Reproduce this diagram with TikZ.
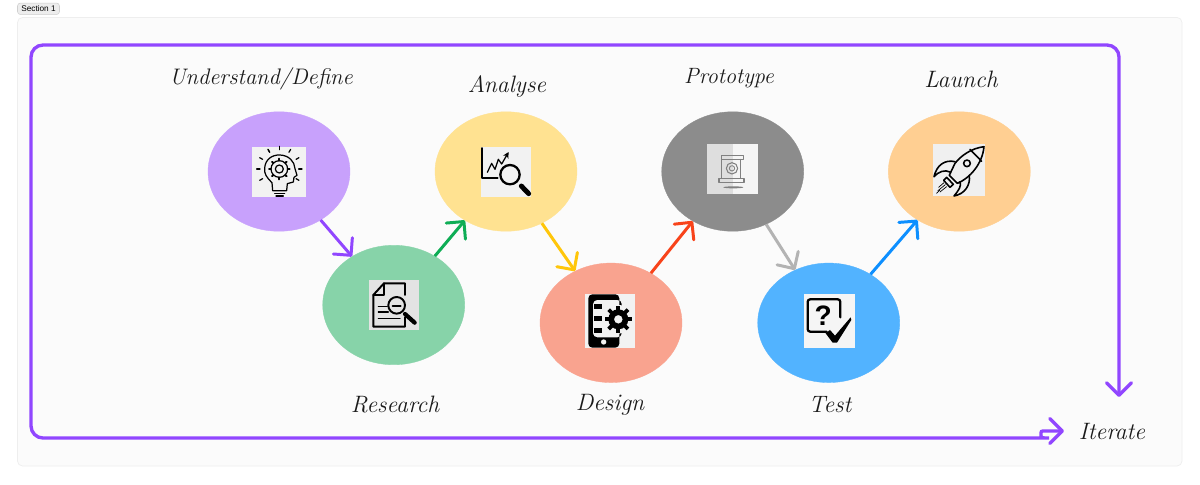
\documentclass[tikz,border=0pt]{standalone}
\usepackage{fontspec}
\setsansfont{Liberation Sans}
\usetikzlibrary{shapes.geometric,arrows.meta}
\definecolor{panelfill}{HTML}{FBFBFB}
\definecolor{panelline}{HTML}{EEEEEE}
\definecolor{tagfill}{HTML}{EDEDED}
\definecolor{tagline}{HTML}{CFCFCF}
\definecolor{loopcol}{HTML}{9146FF}
\definecolor{inkcol}{HTML}{1A1A1A}
\definecolor{understandcol}{HTML}{C8A1FC}
\definecolor{researchcol}{HTML}{87D3A9}
\definecolor{analysecol}{HTML}{FFE291}
\definecolor{designcol}{HTML}{F9A38F}
\definecolor{prototypecol}{HTML}{8C8C8C}
\definecolor{testcol}{HTML}{52B3FF}
\definecolor{launchcol}{HTML}{FFCF92}
\definecolor{greenflow}{HTML}{0EAD55}
\definecolor{yellowflow}{HTML}{FFC60A}
\definecolor{redflow}{HTML}{F8431A}
\definecolor{grayflow}{HTML}{B3B3B3}
\definecolor{blueflow}{HTML}{0D8FFF}
\tikzset{
	phase/.style={ellipse, draw=#1, fill=#1, line width=0.2pt, minimum width=2.84cm, minimum height=2.39cm, inner sep=0pt},
	hand/.style={font=\fontsize{13.5}{16}\selectfont\itshape, text=inkcol, inner sep=0pt},
	flow/.style={draw=#1, line width=1.7pt, -{Straight Barb[length=0.25cm,width=0.5cm,round]}},
	looparrow/.style={draw=loopcol, line width=1.9pt, rounded corners=0.24cm, {Straight Barb[length=0.25cm,width=0.5cm,round]}-{Straight Barb[length=0.25cm,width=0.5cm,round]}},
	iconline/.style={draw=black, line width=0.7pt, line cap=round, line join=round}
}
\begin{document}
\begin{tikzpicture}[x=0.02cm,y=-0.02cm]
	\useasboundingbox (0,0) rectangle (1200,484);
	\fill[white] (0,0) rectangle (1200,484);
	\filldraw[fill=panelfill, draw=panelline, line width=0.4pt, rounded corners=0.1cm] (17.5,17.5) rectangle (1182,466);
	\node[draw=tagline, fill=tagfill, rounded corners=0.06cm, line width=0.3pt, font=\sffamily\fontsize{4.7}{6}\selectfont, text=black, minimum width=0.84cm, minimum height=0.23cm, inner sep=0pt] (section) at (38.5,8.8) {Section 1};

	\node[phase=understandcol] (understand) at (279,171.5) {};
	\node[phase=researchcol] (research) at (393.7,305) {};
	\node[phase=analysecol] (analyse) at (506,171.5) {};
	\node[phase=designcol] (design) at (611,322.8) {};
	\node[phase=prototypecol] (prototype) at (732.7,171.5) {};
	\node[phase=testcol] (test) at (828.7,322.8) {};
	\node[phase=launchcol] (launch) at (959.3,171.5) {};

	\node[hand] (understandlabel) at (261,79) {\fontsize{12.8}{16}\selectfont Understand/Define};
	\node[hand] (analyselabel) at (507,86) {Analyse};
	\node[hand] (prototypelabel) at (729,78) {\fontsize{12.6}{16}\selectfont Prototype};
	\node[hand] (launchlabel) at (961,79) {Launch};
	\node[hand] (researchlabel) at (395,405) {Research};
	\node[hand] (designlabel) at (610,405) {Design};
	\node[hand] (testlabel) at (830,405) {Test};
	\node[hand] (iteratelabel) at (1112,432) {Iterate};

	\draw[flow=loopcol] (understand) -- (research);
	\draw[flow=greenflow] (research) -- (analyse);
	\draw[flow=yellowflow] (analyse) -- (design);
	\draw[flow=redflow] (design) -- (prototype);
	\draw[flow=grayflow] (prototype) -- (test);
	\draw[flow=blueflow] (test) -- (launch);

	\coordinate (loopdown) at (1119,397);
	\coordinate (loopright) at (1064,431);
	\draw[looparrow] (loopdown) -- (1119,45) -- (31,45) -- (31,438) -- (1037,438) [sharp corners] .. controls (1041,438) and (1041,438) .. (1041,434.5) .. controls (1041,431) and (1041,431) .. (1045,431) -- (loopright);

	% head with gear
	\begin{scope}[shift={(200,100)},scale=0.3333]
		\fill[black!5] (157,140) rectangle (318,290);
		\draw[iconline] (218,272) -- (216,248) .. controls (200,232) and (192,222) .. (194,204) .. controls (196,178) and (216,164) .. (240,165) .. controls (266,166) and (284,184) .. (285,206) -- (291,226) -- (282,232) -- (280,246) -- (262,251) -- (260,272) -- cycle;
		\draw[iconline] (238,207) circle (25);
		\draw[iconline] (238,207) circle (12);
		\foreach \a in {0,45,...,315}
			\draw[iconline,line width=1.1pt] (238,207) ++(\a:25) -- ++(\a:6);
		\foreach \a in {-90,-60,-30,0,30,180,150,210,240,-120}
			\draw[iconline] (238,207) ++(\a:58) -- ++(\a:10);
		\draw[iconline] (224,280) -- (254,280);
		\draw[iconline] (228,288) -- (250,288);
	\end{scope}

	% document with magnifier
	\begin{scope}[shift={(200,100)},scale=0.3333]
		\fill[black!11] (507,540) rectangle (657,690);
		\draw[iconline,line width=1.1pt] (615,585) -- (615,550) -- (552,550) -- (520,585) -- (520,680) -- (615,680) -- (615,652);
		\draw[iconline,line width=1pt] (552,550) -- (552,586) -- (520,586);
		\draw[iconline] (535,620) -- (562,620);
		\draw[iconline] (535,636) -- (565,636);
		\draw[iconline] (535,655) -- (600,655);
		\draw[iconline,line width=1.1pt] (590,616) circle (25);
		\draw[iconline,line width=1.1pt] (578,618) -- (602,618);
		\draw[iconline,line width=2.4pt] (615,642) -- (644,668);
	\end{scope}

	% chart with magnifier
	\begin{scope}[shift={(430,100)},scale=0.3333]
		\fill[black!5] (153,140) rectangle (303,290);
		\draw[iconline,line width=1.1pt] (156,144) -- (156,235) -- (203,235);
		\draw[iconline,-{Stealth[length=0.12cm,width=0.12cm]}] (172,217) -- (185,190) -- (195,208) -- (205,178) -- (215,192) -- (236,156);
		\draw[iconline,line width=1.3pt] (240,224) circle (29);
		\draw[iconline,line width=2.8pt] (274,258) -- (296,281);
	\end{scope}

	% phone with gear
	\begin{scope}[shift={(430,100)},scale=0.3333]
		\fill[black!5] (465,582) rectangle (615,743);
		\fill[black,rounded corners=0.08cm,even odd rule] (475,583) rectangle (568,743) (489,600) -- (575,600) -- (575,712) -- (489,712) -- cycle;
		\fill[black!5] (521,726) circle (8);
		\fill[black] (493,613) rectangle (516,627);
		\fill[black] (493,648) rectangle (516,662);
		\fill[black] (493,684) rectangle (516,698);
		\fill[black!5] (565,658) circle (43);
		\fill[black,even odd rule] (565,658) circle (30) circle (13);
		\foreach \a in {0,45,...,315}
			\draw[black,line width=2.2pt] (565,658) ++(\a:28) -- ++(\a:13);
	\end{scope}

	% blueprint with gear
	\begin{scope}[shift={(660,100)},scale=0.3333]
		\fill[black!4] (141,132) rectangle (293,283);
		\fill[black!13] (141,132) rectangle (218,283);
		\draw[iconline,draw=gray,line width=0.5pt] (185,165) -- (250,165) -- (250,178) -- (185,178) -- cycle;
		\draw[iconline,draw=gray,line width=0.5pt] (185,178) -- (185,235) (240,178) -- (240,235);
		\draw[iconline,draw=gray,line width=0.6pt] (216,205) circle (17);
		\draw[iconline,draw=gray,line width=0.5pt] (216,205) circle (8);
		\draw[iconline,draw=gray,line width=0.6pt] (177,235) rectangle (252,248);
		\fill[gray] (220,262) ellipse (30 and 3);
	\end{scope}

	% question box with tick
	\begin{scope}[shift={(660,100)},scale=0.3333]
		\fill[black!4] (432,582) rectangle (584,743);
		\draw[iconline,line width=1.3pt,rounded corners=0.05cm] (500,695) -- (443,695) -- (443,598) -- (541,598) -- (541,652);
		\node[font=\sffamily\bfseries\fontsize{16}{18}\selectfont, text=black, inner sep=0pt] (question) at (490,647) {?};
		\fill[black] (497,700) -- (510,690) -- (525,707) -- (572,652) -- (574,660) -- (531,728) -- (518,728) -- cycle;
	\end{scope}

	% rocket
	\begin{scope}[shift={(660,100)},scale=0.3333]
		\fill[black!6] (819,132) rectangle (976,289);
		\draw[iconline,line width=0.9pt] (972,140) .. controls (935,145) and (905,165) .. (885,190) -- (868,226) -- (892,250) .. controls (930,235) and (968,190) .. (972,140) -- cycle;
		\draw[iconline,line width=0.9pt] (930,148) -- (965,184);
		\draw[iconline,line width=0.9pt] (921,190) circle (10);
		\draw[iconline,line width=0.9pt] (885,185) .. controls (855,178) and (830,195) .. (822,230) .. controls (835,215) and (855,208) .. (870,216);
		\draw[iconline,line width=0.9pt] (928,226) .. controls (932,255) and (915,282) .. (882,288) .. controls (897,270) and (905,258) .. (900,245);
		\draw[iconline,line width=0.9pt] (851,241) -- (860,232) -- (880,253) -- (870,262) -- cycle;
		\draw[iconline,line width=0.4pt] (836,262) -- (852,248);
		\draw[iconline,line width=0.4pt] (834,272) -- (856,254);
		\draw[iconline,line width=0.4pt] (840,276) -- (860,260);
		\draw[iconline,line width=0.4pt] (830,280) -- (840,270);
	\end{scope}
\end{tikzpicture}
\end{document}
